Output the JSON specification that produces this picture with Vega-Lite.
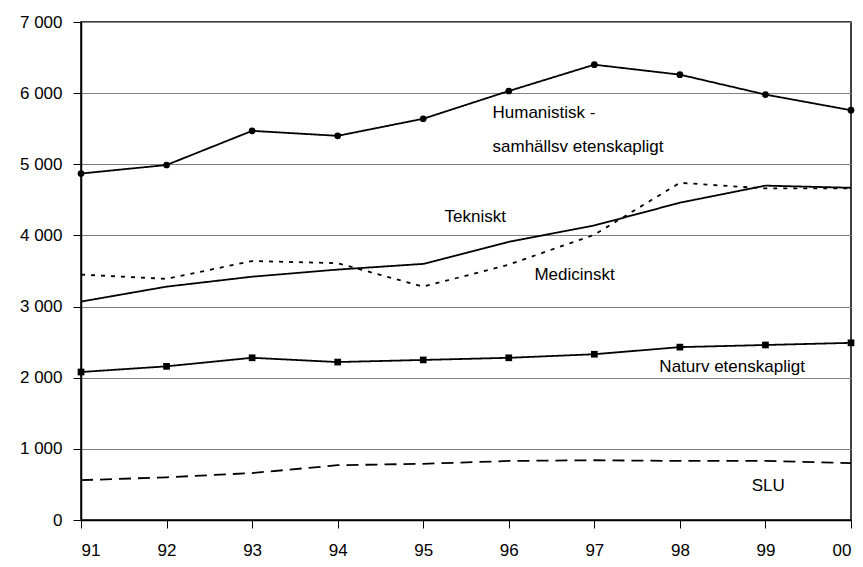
{
  "$schema": "https://vega.github.io/schema/vega-lite/v6.json",
  "width": 770,
  "height": 498,
  "autosize": {"type": "none"},
  "padding": {"left": 81, "top": 22, "right": 12, "bottom": 47},
  "background": "white",
  "config": {
    "view": {"stroke": "#000", "strokeWidth": 1.5},
    "font": "Liberation Sans"
  },
  "datasets": {
    "series": [
      {"serie": "Humanistisk", "i": 0, "v": 4870}, {"serie": "Humanistisk", "i": 1, "v": 4990}, {"serie": "Humanistisk", "i": 2, "v": 5470}, {"serie": "Humanistisk", "i": 3, "v": 5400}, {"serie": "Humanistisk", "i": 4, "v": 5640}, {"serie": "Humanistisk", "i": 5, "v": 6030}, {"serie": "Humanistisk", "i": 6, "v": 6400}, {"serie": "Humanistisk", "i": 7, "v": 6260}, {"serie": "Humanistisk", "i": 8, "v": 5980}, {"serie": "Humanistisk", "i": 9, "v": 5760},
      {"serie": "Tekniskt", "i": 0, "v": 3070}, {"serie": "Tekniskt", "i": 1, "v": 3280}, {"serie": "Tekniskt", "i": 2, "v": 3420}, {"serie": "Tekniskt", "i": 3, "v": 3520}, {"serie": "Tekniskt", "i": 4, "v": 3600}, {"serie": "Tekniskt", "i": 5, "v": 3910}, {"serie": "Tekniskt", "i": 6, "v": 4140}, {"serie": "Tekniskt", "i": 7, "v": 4460}, {"serie": "Tekniskt", "i": 8, "v": 4700}, {"serie": "Tekniskt", "i": 9, "v": 4670},
      {"serie": "Medicinskt", "i": 0, "v": 3450}, {"serie": "Medicinskt", "i": 1, "v": 3390}, {"serie": "Medicinskt", "i": 2, "v": 3640}, {"serie": "Medicinskt", "i": 3, "v": 3610}, {"serie": "Medicinskt", "i": 4, "v": 3280}, {"serie": "Medicinskt", "i": 5, "v": 3590}, {"serie": "Medicinskt", "i": 6, "v": 4010}, {"serie": "Medicinskt", "i": 7, "v": 4740}, {"serie": "Medicinskt", "i": 8, "v": 4660}, {"serie": "Medicinskt", "i": 9, "v": 4660},
      {"serie": "Naturvetenskapligt", "i": 0, "v": 2080}, {"serie": "Naturvetenskapligt", "i": 1, "v": 2160}, {"serie": "Naturvetenskapligt", "i": 2, "v": 2280}, {"serie": "Naturvetenskapligt", "i": 3, "v": 2220}, {"serie": "Naturvetenskapligt", "i": 4, "v": 2250}, {"serie": "Naturvetenskapligt", "i": 5, "v": 2280}, {"serie": "Naturvetenskapligt", "i": 6, "v": 2330}, {"serie": "Naturvetenskapligt", "i": 7, "v": 2430}, {"serie": "Naturvetenskapligt", "i": 8, "v": 2460}, {"serie": "Naturvetenskapligt", "i": 9, "v": 2490},
      {"serie": "SLU", "i": 0, "v": 560}, {"serie": "SLU", "i": 1, "v": 600}, {"serie": "SLU", "i": 2, "v": 660}, {"serie": "SLU", "i": 3, "v": 770}, {"serie": "SLU", "i": 4, "v": 790}, {"serie": "SLU", "i": 5, "v": 830}, {"serie": "SLU", "i": 6, "v": 840}, {"serie": "SLU", "i": 7, "v": 830}, {"serie": "SLU", "i": 8, "v": 830}, {"serie": "SLU", "i": 9, "v": 800}
    ],
    "labels": [
      {"text": "Humanistisk -", "i": 4.81, "v": 5720},
      {"text": "samhällsv etenskapligt", "i": 4.81, "v": 5240},
      {"text": "Tekniskt", "i": 4.25, "v": 4259},
      {"text": "Medicinskt", "i": 5.3, "v": 3444},
      {"text": "Naturv etenskapligt", "i": 6.76, "v": 2150},
      {"text": "SLU", "i": 7.84, "v": 478}
    ]
  },
  "layer": [
    {
      "data": {"name": "series"},
      "mark": {"type": "line", "color": "#000"},
      "encoding": {
        "x": {"field": "i", "type": "quantitative", "scale": {"domain": [0, 9], "nice": false, "zero": false},
              "axis": {"title": null, "values": [0,1,2,3,4,5,6,7,8,9], "grid": false, "tickSize": 8, "labelPadding": 14,
                       "labelFont": "Liberation Sans", "labelFontSize": 17, "labelColor": "#000", "domainColor": "#000", "domainWidth": 1.5, "tickColor": "#000", "tickWidth": 1,
                       "labelExpr": "['91','92','93','94','95','96','97','98','99','00'][datum.value]"}},
        "y": {"field": "v", "type": "quantitative", "scale": {"domain": [0, 7000], "nice": false},
              "axis": {"title": null, "values": [0,1000,2000,3000,4000,5000,6000,7000], "grid": true, "gridColor": "#808080", "gridWidth": 1, "gridOpacity": 1, "tickSize": 8, "labelPadding": 11,
                       "labelFont": "Liberation Sans", "labelFontSize": 17, "labelColor": "#000", "domainColor": "#000", "domainWidth": 1.5, "tickColor": "#000", "tickWidth": 1,
                       "labelExpr": "replace(format(datum.value, ','), ',', ' ')"}},
        "detail": {"field": "serie"},
        "strokeDash": {"field": "serie", "type": "nominal", "legend": null,
                       "scale": {"domain": ["Humanistisk", "Tekniskt", "Medicinskt", "Naturvetenskapligt", "SLU"], "range": [[1,0],[1,0],[4,6],[1,0],[12,7]]}},
        "strokeWidth": {"field": "serie", "type": "nominal", "legend": null,
                        "scale": {"domain": ["Humanistisk", "Tekniskt", "Medicinskt", "Naturvetenskapligt", "SLU"], "range": [1.8, 1.8, 2.4, 1.8, 2.4]}}
      }
    },
    {
      "data": {"name": "series"},
      "transform": [{"filter": "datum.serie == 'Humanistisk' || datum.serie == 'Naturvetenskapligt'"}],
      "mark": {"type": "point", "filled": true, "color": "#000", "opacity": 1, "size": 45},
      "encoding": {
        "x": {"field": "i", "type": "quantitative"},
        "y": {"field": "v", "type": "quantitative"},
        "shape": {"field": "serie", "type": "nominal", "legend": null,
                  "scale": {"domain": ["Humanistisk", "Naturvetenskapligt"], "range": ["circle", "square"]}}
      }
    },
    {
      "data": {"name": "labels"},
      "mark": {"type": "text", "align": "left", "baseline": "middle", "fontSize": 17, "color": "#000", "font": "Liberation Sans"},
      "encoding": {
        "x": {"field": "i", "type": "quantitative"},
        "y": {"field": "v", "type": "quantitative"},
        "text": {"field": "text"}
      }
    }
  ]
}
